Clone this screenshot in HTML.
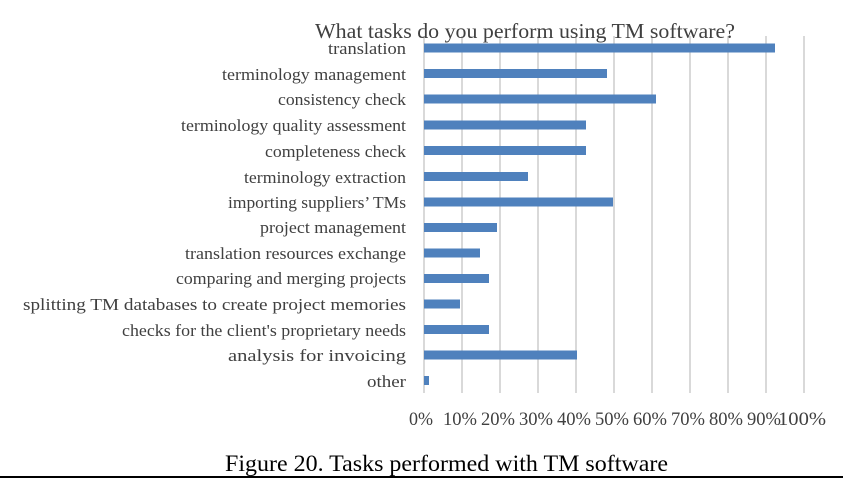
<!DOCTYPE html>
<html><head><style>body{margin:0;background:#fff}svg{display:block}</style></head><body>
<svg width="843" height="479" xmlns="http://www.w3.org/2000/svg" font-family="Liberation Serif, serif">
<g stroke="#d9d9d9" stroke-width="2">
<line x1="424" y1="36" x2="424" y2="393"/><line x1="462" y1="36" x2="462" y2="393"/><line x1="500" y1="36" x2="500" y2="393"/><line x1="538" y1="36" x2="538" y2="393"/><line x1="576" y1="36" x2="576" y2="393"/><line x1="614" y1="36" x2="614" y2="393"/><line x1="652" y1="36" x2="652" y2="393"/><line x1="690" y1="36" x2="690" y2="393"/><line x1="728" y1="36" x2="728" y2="393"/><line x1="766" y1="36" x2="766" y2="393"/><line x1="804" y1="36" x2="804" y2="393"/>
</g>
<text x="315" y="38" font-size="21" fill="#404040" textLength="420" lengthAdjust="spacingAndGlyphs">What tasks do you perform using TM software?</text>
<g fill="#4f81bd">
<rect x="424" y="43.5" width="351" height="9"/>
<rect x="424" y="69" width="183" height="9"/>
<rect x="424" y="94.5" width="232" height="9"/>
<rect x="424" y="120.5" width="162" height="9"/>
<rect x="424" y="146" width="162" height="9"/>
<rect x="424" y="172" width="104" height="9"/>
<rect x="424" y="197.5" width="189" height="9"/>
<rect x="424" y="223" width="73" height="9"/>
<rect x="424" y="248.5" width="56" height="9"/>
<rect x="424" y="274" width="65" height="9"/>
<rect x="424" y="299.5" width="36" height="9"/>
<rect x="424" y="325" width="65" height="9"/>
<rect x="424" y="350.5" width="153" height="9"/>
<rect x="424" y="376" width="5" height="9"/>
</g>
<g font-size="17" fill="#404040">
<text x="328" y="54" textLength="78" lengthAdjust="spacingAndGlyphs">translation</text>
<text x="222" y="80" textLength="184" lengthAdjust="spacingAndGlyphs">terminology management</text>
<text x="278" y="105" textLength="128" lengthAdjust="spacingAndGlyphs">consistency check</text>
<text x="181" y="131" textLength="225" lengthAdjust="spacingAndGlyphs">terminology quality assessment</text>
<text x="265" y="157" textLength="141" lengthAdjust="spacingAndGlyphs">completeness check</text>
<text x="244" y="183" textLength="162" lengthAdjust="spacingAndGlyphs">terminology extraction</text>
<text x="228" y="208" textLength="178" lengthAdjust="spacingAndGlyphs">importing suppliers’ TMs</text>
<text x="260" y="233" textLength="146" lengthAdjust="spacingAndGlyphs">project management</text>
<text x="185" y="259" textLength="221" lengthAdjust="spacingAndGlyphs">translation resources exchange</text>
<text x="176" y="284" textLength="230" lengthAdjust="spacingAndGlyphs">comparing and merging projects</text>
<text x="23" y="310" textLength="383" lengthAdjust="spacingAndGlyphs">splitting TM databases to create project memories</text>
<text x="122" y="336" textLength="284" lengthAdjust="spacingAndGlyphs">checks for the client's proprietary needs</text>
<text x="228" y="361" textLength="178" lengthAdjust="spacingAndGlyphs">analysis for invoicing</text>
<text x="367" y="387" textLength="39" lengthAdjust="spacingAndGlyphs">other</text>
</g>
<g font-size="19" fill="#404040">
<text x="409" y="425" textLength="24" lengthAdjust="spacingAndGlyphs">0%</text>
<text x="443" y="425" textLength="34" lengthAdjust="spacingAndGlyphs">10%</text>
<text x="481" y="425" textLength="34" lengthAdjust="spacingAndGlyphs">20%</text>
<text x="519" y="425" textLength="34" lengthAdjust="spacingAndGlyphs">30%</text>
<text x="557" y="425" textLength="34" lengthAdjust="spacingAndGlyphs">40%</text>
<text x="595" y="425" textLength="34" lengthAdjust="spacingAndGlyphs">50%</text>
<text x="633" y="425" textLength="34" lengthAdjust="spacingAndGlyphs">60%</text>
<text x="671" y="425" textLength="34" lengthAdjust="spacingAndGlyphs">70%</text>
<text x="709" y="425" textLength="34" lengthAdjust="spacingAndGlyphs">80%</text>
<text x="747" y="425" textLength="34" lengthAdjust="spacingAndGlyphs">90%</text>
<text x="778" y="425" textLength="48" lengthAdjust="spacingAndGlyphs">100%</text>
</g>
<text x="225" y="471" font-size="23" fill="#000" textLength="443" lengthAdjust="spacingAndGlyphs">Figure 20. Tasks performed with TM software</text>
<rect x="0" y="476" width="843" height="2" fill="#000"/>
</svg>
</body></html>
